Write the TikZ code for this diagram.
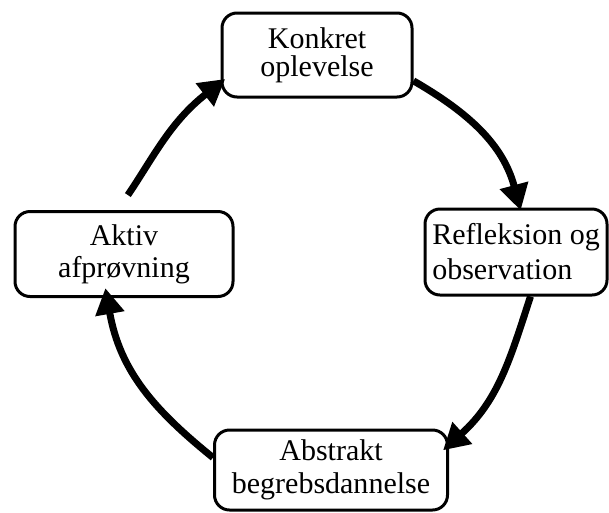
\documentclass[tikz,border=0pt]{standalone}
\usepackage{fontspec}
\setmainfont{Liberation Serif}
\usepackage{tikz}
\usetikzlibrary{arrows.meta}
\tikzstyle{stage} = [rectangle, rounded corners=15pt, line width=3pt, draw=black, fill=white, inner sep=0pt, font=\fontsize{30}{35}\selectfont]
\tikzstyle{arrow} = [line width=7pt,-{Triangle[length=26pt,width=28pt]}]

\begin{document}
\begin{tikzpicture}[x=1pt,y=1pt]
	\useasboundingbox (0,0) rectangle (609,-512);

	\node (konkret) [stage, align=center, minimum width=190pt, minimum height=84pt] at (317,-55) {Konkret\\[-7pt]oplevelse};
		\node (refleksion) [stage, align=left, minimum width=182pt, minimum height=86pt] at (516,-252) {Refleksion og\\observation};
		\node (abstrakt) [stage, align=center, minimum width=233pt, minimum height=80pt] at (331,-470) {Abstrakt\\[-2pt]begrebsdannelse};
		\node (aktiv) [stage, align=center, minimum width=218pt, minimum height=85pt] at (124,-254) {Aktiv\\[-3pt]afpr{\o}vning};

	\draw [arrow, shorten >=-3pt] (konkret.-15) to[out=-30, in=105] (refleksion.85);
	\draw [arrow, shorten >=-8pt] (refleksion.-72) to[out=-108, in=42] (abstrakt.12);
	\draw [arrow, shorten >=-10pt] (abstrakt.174) to[out=141, in=-80] (aktiv.249);
	\draw [arrow, shorten <=18pt, shorten >=-6pt] (aktiv.98) to[out=56, in=218] (konkret.196);

\end{tikzpicture}
\end{document}
